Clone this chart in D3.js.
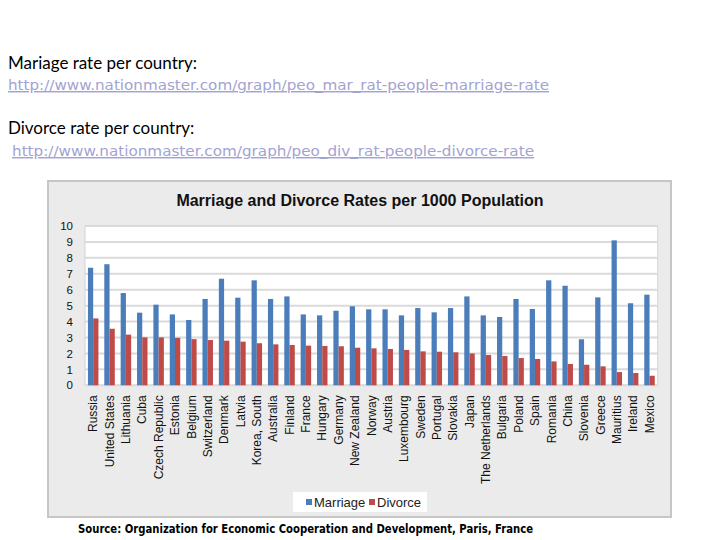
<!DOCTYPE html>
<html>
<head>
<meta charset="utf-8">
<script src="https://cdn.jsdelivr.net/npm/d3@7"></script>
<style>
  body { margin: 0; background: #ffffff; }
  svg { display: block; }
</style>
</head>
<body>
<div id="main"></div>
<script>
const ctx = {
    w: 720,
    h: 540,
    frame: {x: 48, y: 181, w: 623, h: 336},
    plot: {x0: 85, x1: 657.7, y0: 226, y1: 385.3}
};

// values (per 1000 population)
const countries = ["Russia", "United States", "Lithuania", "Cuba", "Czech Republic", "Estonia",
    "Belgium", "Switzerland", "Denmark", "Latvia", "Korea, South", "Australia", "Finland",
    "France", "Hungary", "Germany", "New Zealand", "Norway", "Austria", "Luxembourg", "Sweden",
    "Portugal", "Slovakia", "Japan", "The Netherlands", "Bulgaria", "Poland", "Spain",
    "Romania", "China", "Slovenia", "Greece", "Mauritius", "Ireland", "Mexico"];
const marriage = [7.38, 7.6, 5.79, 4.56, 5.06, 4.45, 4.1, 5.42, 6.69, 5.5, 6.59, 5.42, 5.58,
    4.45, 4.39, 4.68, 4.96, 4.77, 4.77, 4.39, 4.85, 4.58, 4.85, 5.58, 4.39, 4.29, 5.42, 4.79,
    6.59, 6.25, 2.89, 5.52, 9.1, 5.15, 5.69];
const divorce = [4.2, 3.55, 3.18, 3.01, 3.01, 2.98, 2.9, 2.84, 2.8, 2.74, 2.64, 2.57, 2.53,
    2.49, 2.47, 2.45, 2.36, 2.32, 2.28, 2.22, 2.13, 2.11, 2.07, 2.0, 1.9, 1.84, 1.71, 1.65,
    1.5, 1.34, 1.29, 1.19, 0.83, 0.77, 0.6];
const seriesNames = ["Marriage", "Divorce"];
const seriesColors = ["#4a7dba", "#be4b48"];
const yTicks = d3.range(0, 11, 1);

const notes = [
    {label: "Mariage rate per country:", url: "http://www.nationmaster.com/graph/peo_mar_rat-people-marriage-rate"},
    {label: "Divorce rate per country:", url: "http://www.nationmaster.com/graph/peo_div_rat-people-divorce-rate"}
];
const sourceText = "Source: Organization for Economic Cooperation and Development, Paris, France";
const chartTitle = "Marriage and Divorce Rates per 1000 Population";

function drawNotes(svgEl) {
    let g = svgEl.append("g").attr("id", "notesG");
    let labelY = [69, 134], urlY = [90, 156], urlX = [8, 12], urlLen = [541, 522];
    notes.forEach((n, i) => {
        g.append("text")
            .attr("x", 8)
            .attr("y", labelY[i])
            .attr("font-family", "Lato, 'Open Sans', sans-serif")
            .attr("font-size", 17)
            .attr("fill", "#000")
            .text(n.label);
        g.append("text")
            .attr("x", urlX[i])
            .attr("y", urlY[i])
            .attr("font-family", "'DejaVu Sans', Verdana, sans-serif")
            .attr("font-size", 14.5)
            .attr("fill", "#a3a3d2")
            .attr("text-decoration", "underline")
            .attr("textLength", urlLen[i])
            .attr("lengthAdjust", "spacingAndGlyphs")
            .text(n.url);
    });
}

function drawChart(svgEl) {
    let f = ctx.frame, p = ctx.plot;
    let chartG = svgEl.append("g").attr("id", "chartG");
    chartG.append("rect")
        .attr("x", f.x).attr("y", f.y)
        .attr("width", f.w).attr("height", f.h)
        .attr("fill", "#ebebeb")
        .attr("stroke", "#c6c6c6")
        .attr("stroke-width", 2);
    chartG.append("text")
        .attr("x", 360)
        .attr("y", 206)
        .attr("text-anchor", "middle")
        .attr("font-family", "'Liberation Sans', Arial, sans-serif")
        .attr("font-weight", "bold")
        .attr("font-size", 16)
        .attr("fill", "#111")
        .text(chartTitle);

    let xScale = d3.scaleBand()
        .domain(countries)
        .range([p.x0, p.x1])
        .paddingInner(0.36)
        .paddingOuter(0.18);
    let xSub = d3.scaleBand()
        .domain(seriesNames)
        .range([0, xScale.bandwidth()]);
    let yScale = d3.scaleLinear()
        .domain([0, 10])
        .range([p.y1, p.y0]);

    // plot background
    chartG.append("rect")
        .attr("x", p.x0).attr("y", p.y0)
        .attr("width", p.x1 - p.x0).attr("height", p.y1 - p.y0)
        .attr("fill", "#ffffff")
        .attr("stroke", "#d4d4d4");
    // gridlines
    chartG.append("g")
        .selectAll("line")
        .data(yTicks)
        .enter()
        .append("line")
            .attr("x1", p.x0)
            .attr("x2", p.x1)
            .attr("y1", (d) => yScale(d))
            .attr("y2", (d) => yScale(d))
            .attr("stroke", "#dadada")
            .attr("stroke-width", 2);

    let yAxis = d3.axisLeft(yScale)
        .tickValues(yTicks)
        .tickSize(0)
        .tickPadding(12);
    let yAxisG = chartG.append("g")
        .attr("id", "yAxisG")
        .attr("transform", "translate(" + p.x0 + ",0)")
        .call(yAxis);
    yAxisG.select(".domain").remove();
    yAxisG.selectAll("text")
        .attr("font-family", "'Liberation Sans', Arial, sans-serif")
        .attr("font-size", 11.5)
        .attr("fill", "#111");

    // bars
    let groups = chartG.append("g").attr("id", "barsG")
        .selectAll("g")
        .data(countries)
        .enter()
        .append("g")
            .attr("transform", (d) => "translate(" + xScale(d) + ",0)");
    [marriage, divorce].forEach((values, s) => {
        groups.append("rect")
            .attr("x", xSub(seriesNames[s]))
            .attr("y", (d, i) => yScale(values[i]))
            .attr("width", xSub.bandwidth())
            .attr("height", (d, i) => yScale(0) - yScale(values[i]))
            .attr("fill", seriesColors[s]);
    });

    // x labels, rotated
    let xAxis = d3.axisBottom(xScale).tickSize(0).tickPadding(0);
    let xAxisG = chartG.append("g")
        .attr("id", "xAxisG")
        .attr("transform", "translate(0," + p.y1 + ")")
        .call(xAxis);
    xAxisG.select(".domain").remove();
    xAxisG.selectAll("text")
        .attr("font-family", "'Liberation Sans', Arial, sans-serif")
        .attr("font-size", 12)
        .attr("fill", "#111")
        .attr("text-anchor", "end")
        .attr("dy", "0.35em")
        .attr("transform", "translate(0,10) rotate(-90)")
        .attr("x", 0)
        .attr("y", 0);

    // legend
    let legend = chartG.append("g").attr("id", "legend");
    legend.append("rect")
        .attr("x", 293).attr("y", 492)
        .attr("width", 134).attr("height", 20)
        .attr("fill", "#ffffff");
    let legX = [306, 369];
    seriesNames.forEach((name, s) => {
        legend.append("rect")
            .attr("x", legX[s]).attr("y", 499)
            .attr("width", 6).attr("height", 6)
            .attr("fill", seriesColors[s]);
        legend.append("text")
            .attr("x", legX[s] + 8)
            .attr("y", 507)
            .attr("font-family", "'Liberation Sans', Arial, sans-serif")
            .attr("font-size", 13)
            .attr("fill", "#222")
            .text(name);
    });
}

function drawSource(svgEl) {
    svgEl.append("text")
        .attr("x", 78)
        .attr("y", 533)
        .attr("font-family", "'DejaVu Sans Condensed', 'DejaVu Sans', sans-serif")
        .attr("font-weight", "bold")
        .attr("font-size", 13)
        .attr("fill", "#000")
        .attr("textLength", 455)
        .attr("lengthAdjust", "spacingAndGlyphs")
        .text(sourceText);
}

function createViz() {
    let svgEl = d3.select("#main").append("svg")
        .attr("width", ctx.w)
        .attr("height", ctx.h);
    drawNotes(svgEl);
    drawChart(svgEl);
    drawSource(svgEl);
}

createViz();
</script>
</body>
</html>
